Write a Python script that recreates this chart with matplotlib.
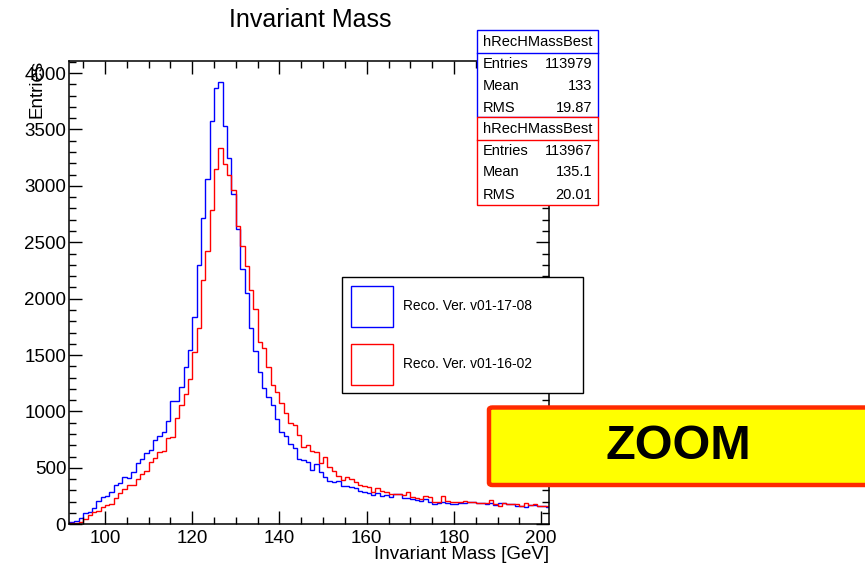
import numpy as np
import matplotlib
matplotlib.use("Agg")
import matplotlib.pyplot as plt
from matplotlib.patches import Rectangle, FancyBboxPatch
from matplotlib.lines import Line2D

plt.rcParams['font.family'] = ['Liberation Sans', 'DejaVu Sans']

# ---------------- data ----------------
FIRST_BIN = 91          # lower edge of first bin [GeV], 1 GeV bins
blue_counts = [
    20, 23, 32, 59, 97, 112, 142, 209, 239, 251,            # 91-100
    289, 348, 363, 419, 410, 466, 541, 579, 629, 656,       # 101-110
    747, 785, 815, 913, 1090, 1096, 1214, 1392, 1542, 1836, # 111-120
    2299, 2712, 3061, 3572, 3865, 3924, 3532, 3247, 2927, 2620,  # 121-130
    2265, 2053, 1742, 1540, 1353, 1211, 1126, 1055, 931, 821,    # 131-140
    783, 712, 679, 576, 570, 555, 481, 532, 466, 422,       # 141-150
    384, 372, 386, 340, 340, 333, 322, 296, 289, 274,       # 151-160
    260, 274, 254, 260, 245, 268, 268, 230, 230, 221,       # 161-170
    215, 209, 224, 200, 180, 192, 200, 192, 180, 180,       # 171-180
    186, 186, 195, 195, 186, 186, 177, 186, 171, 186,       # 181-190
    186, 180, 180, 165, 160, 150, 171, 171, 162, 162,       # 191-200
    150,                                                    # 201
]
red_counts = [
    12, 14, 14, 23, 44, 82, 106, 121, 151, 171,             # 91-100
    180, 230, 280, 310, 348, 348, 399, 446, 472, 555,       # 101-110
    590, 638, 650, 768, 777, 940, 1058, 1158, 1291, 1530,   # 111-120
    1737, 2170, 2423, 2783, 3153, 3332, 3191, 3097, 2967, 2640,  # 121-130
    2470, 2287, 2077, 1910, 1619, 1560, 1397, 1235, 1176, 1073,  # 131-140
    984, 895, 877, 792, 688, 703, 652, 638, 546, 599,       # 141-150
    511, 472, 431, 393, 422, 402, 373, 350, 340, 334,       # 151-160
    289, 325, 298, 289, 268, 268, 265, 260, 283, 245,       # 161-170
    230, 221, 251, 245, 200, 195, 251, 209, 200, 200,       # 171-180
    195, 209, 195, 195, 192, 192, 186, 215, 177, 162,       # 181-190
    186, 177, 177, 177, 165, 186, 171, 177, 165, 165,       # 191-200
    162,                                                    # 201
]
series_labels = ["Reco. Ver. v01-17-08", "Reco. Ver. v01-16-02"]
hist_name = "hRecHMassBest"
stat_names = ["Entries", "Mean", "RMS"]
blue_stats = ["113979", "133", "19.87"]
red_stats = ["113967", "135.1", "20.01"]
title = "Invariant Mass"
x_label = "Invariant Mass [GeV]"
y_label = "Entries"
x_ticks = [100, 120, 140, 160, 180, 200]
y_ticks = [0, 500, 1000, 1500, 2000, 2500, 3000, 3500, 4000]

# ---------------- figure ----------------
W, H = 865, 564
fig = plt.figure(figsize=(W / 100, H / 100), dpi=100)

def fx(px):
    return px / W

def fy(py):
    return 1 - py / H

ax_l, ax_r, ax_t, ax_b = 69, 549.3, 61, 524.3
ax = fig.add_axes([fx(ax_l), fy(ax_b), fx(ax_r) - fx(ax_l), fy(ax_t) - fy(ax_b)])

BLUE = (0, 0, 1)
RED = (1, 0, 0)
edges_b = FIRST_BIN + np.arange(len(blue_counts) + 1)
edges_r = FIRST_BIN + np.arange(len(red_counts) + 1)
ax.stairs(blue_counts, edges_b, color=BLUE, lw=1.0, baseline=None)
ax.stairs(red_counts, edges_r, color=RED, lw=1.0, baseline=None)

ax.set_xlim(91.75, 201.85)
ax.set_ylim(0, 4107)

ax.set_xticks(x_ticks)
ax.set_yticks(y_ticks)
ax.set_xticks(np.arange(95, 202, 5), minor=True)
ax.set_yticks(np.arange(0, 4107, 100), minor=True)
ax.tick_params(which='both', direction='in', top=True, right=True,
               labelsize=13.5, width=1.0, color='black')
ax.tick_params(which='major', length=9.5)
ax.tick_params(which='minor', length=5)
ax.tick_params(axis='x', which='major', pad=4)
ax.tick_params(axis='y', which='major', pad=2)
for sp in ax.spines.values():
    sp.set_linewidth(1.1)

# title / axis labels
fig.text(fx(310), fy(20), title, ha='center', va='center', fontsize=18)
fig.text(fx(549), fy(559), x_label, ha='right', va='baseline', fontsize=13.5)
fig.text(fx(37), fy(60), y_label, ha='center', va='top', rotation=90, fontsize=13.5)

# ---------------- stats boxes ----------------
def stats_box(top, bottom, header_bottom, color, vals, row_ys, head_y):
    L, R = 477.3, 598
    fig.patches.append(Rectangle((fx(L), fy(bottom)), fx(R) - fx(L), fy(top) - fy(bottom),
                                 transform=fig.transFigure, facecolor='white',
                                 edgecolor=color, lw=1.0, zorder=5))
    fig.lines.append(Line2D([fx(L), fx(R)], [fy(header_bottom)] * 2,
                            transform=fig.transFigure, color=color, lw=1.0, zorder=6))
    fig.text(fx((L + R) / 2), fy(head_y), hist_name, ha='center', va='center',
             fontsize=10.5, zorder=7)
    for name, v, yy in zip(stat_names, vals, row_ys):
        fig.text(fx(483), fy(yy), name, ha='left', va='center', fontsize=10.5, zorder=7)
        fig.text(fx(592), fy(yy), v, ha='right', va='center', fontsize=10.5, zorder=7)

stats_box(30, 116.7, 53.3, BLUE, blue_stats, [64.3, 86, 107.5], 42)
stats_box(116.7, 205, 140, RED, red_stats, [151, 172.5, 195], 129)

# ---------------- legend ----------------
LL, LR, LT, LB = 342.3, 582.5, 277.3, 393.3
fig.patches.append(Rectangle((fx(LL), fy(LB)), fx(LR) - fx(LL), fy(LT) - fy(LB),
                             transform=fig.transFigure, facecolor='white',
                             edgecolor='black', lw=1.0, zorder=5))
for (sq_t, sq_b), col, lab in zip([(285.7, 326.7), (344, 385)], [BLUE, RED], series_labels):
    fig.patches.append(Rectangle((fx(350.7), fy(sq_b)), fx(393.3) - fx(350.7), fy(sq_t) - fy(sq_b),
                                 transform=fig.transFigure, facecolor='none',
                                 edgecolor=col, lw=1.0, zorder=6))
    fig.text(fx(402.7), fy((sq_t + sq_b) / 2), lab, ha='left', va='center',
             fontsize=9.9, zorder=7)

# ---------------- ZOOM overlay ----------------
fig.patches.append(FancyBboxPatch((fx(489), fy(485)), fx(880) - fx(489), fy(407.5) - fy(485),
                                  boxstyle="round,pad=0,rounding_size=0.004",
                                  transform=fig.transFigure, facecolor='#ffff00',
                                  edgecolor='#ff2a00', lw=3.2, zorder=8))
fig.text(fx(678), fy(446.5), "ZOOM", ha='center', va='center', fontsize=35,
         fontweight='bold', color='black', zorder=9)

fig.savefig("out.png", dpi=100)
